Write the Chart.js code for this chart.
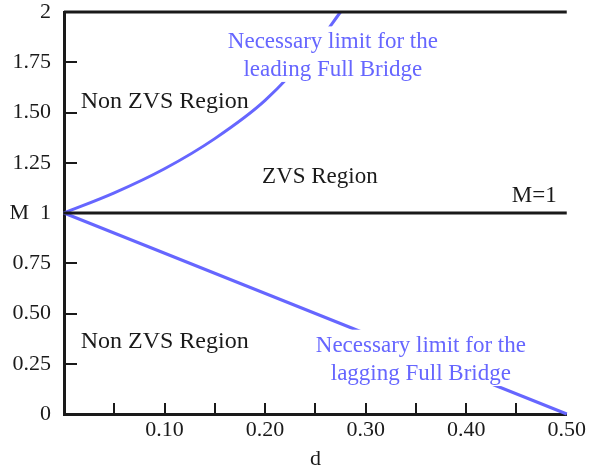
<!DOCTYPE html>
<html>
<head>
<meta charset="utf-8">
<script src="https://cdn.jsdelivr.net/npm/chart.js@4/dist/chart.umd.min.js"></script>
<style>
  body { margin: 0; background: #fff; }
  canvas { display: block; }
</style>
</head>
<body>
<canvas id="zvsChart" width="589" height="470"></canvas>
<script>
// leading full bridge limit
const leadD = [0, 0.05, 0.10, 0.15, 0.20, 0.25, 0.275];
const leadM = [1.00, 1.10, 1.22, 1.37, 1.56, 1.83, 2.00];

// lagging full bridge limit
const lagD = [0, 0.5];
const lagM = [1, 0];

// horizontal boundaries
const boundD = [0, 0.5];
const topM = [2, 2];
const unityM = [1, 1];

const xTickLabels = ['', '', '0.10', '', '0.20', '', '0.30', '', '0.40', '', '0.50'];
const yTickLabels = ['0', '0.25', '0.50', '0.75', 'M\u20021', '1.25', '1.50', '1.75', '2'];

const BLUE = '#6666ff';
const INK = '#1a1a1a';
const SERIF = '"Liberation Serif", "Times New Roman", serif';

function toPoints(xs, ys) {
    return xs.map((x, i) => ({ x: x, y: ys[i] }));
}

// inward tick marks + text annotations
const decorPlugin = {
    id: 'decor',
    afterDatasetsDraw(chart) {
        const ctx = chart.ctx;
        const xs = chart.scales.x, ys = chart.scales.y;
        const area = chart.chartArea;

        ctx.save();
        ctx.strokeStyle = INK;
        ctx.lineWidth = 2;
        ys.ticks.forEach(t => {
            if (t.value <= 0 || t.value >= 2 || t.value === 1) return;
            const py = Math.round(ys.getPixelForValue(t.value));
            ctx.beginPath();
            ctx.moveTo(area.left, py);
            ctx.lineTo(area.left + 13, py);
            ctx.stroke();
        });
        xs.ticks.forEach(t => {
            if (t.value <= 0 || t.value >= 0.5) return;
            const px = Math.round(xs.getPixelForValue(t.value));
            ctx.beginPath();
            ctx.moveTo(px, area.bottom);
            ctx.lineTo(px, area.bottom - 11);
            ctx.stroke();
        });

        ctx.textBaseline = 'alphabetic';
        ctx.fillStyle = INK;
        ctx.textAlign = 'left';
        ctx.font = '24px ' + SERIF;
        ctx.fillText('Non ZVS Region', xs.getPixelForValue(0.0166), ys.getPixelForValue(1.522));
        ctx.fillText('Non ZVS Region', xs.getPixelForValue(0.0166), ys.getPixelForValue(0.328));
        ctx.font = '23px ' + SERIF;
        ctx.textAlign = 'center';
        ctx.fillText('ZVS Region', xs.getPixelForValue(0.2545), ys.getPixelForValue(1.149));
        ctx.textAlign = 'right';
        ctx.fillText('M=1', xs.getPixelForValue(0.490), ys.getPixelForValue(1.056));

        // blue labels on white boxes that break the curves
        const blueLabel = (cx, m1, m2, l1, l2) => {
            const x = xs.getPixelForValue(cx);
            const y1 = ys.getPixelForValue(m1);
            const y2 = ys.getPixelForValue(m2);
            const w = Math.max(ctx.measureText(l1).width, ctx.measureText(l2).width) + 8;
            ctx.fillStyle = '#fff';
            ctx.fillRect(x - w / 2, y1 - 22, w, (y2 + 6) - (y1 - 22));
            ctx.fillStyle = BLUE;
            ctx.fillText(l1, x, y1);
            ctx.fillText(l2, x, y2);
        };
        ctx.textAlign = 'center';
        blueLabel(0.2674, 1.819, 1.682, 'Necessary limit for the', 'leading Full Bridge');
        blueLabel(0.3549, 0.310, 0.169, 'Necessary limit for the', 'lagging Full Bridge');
        ctx.restore();
    }
};

const ctx = document.getElementById('zvsChart').getContext('2d');
new Chart(ctx, {
    type: 'scatter',
    data: {
        datasets: [
            { label: 'top', data: toPoints(boundD, topM), borderColor: INK, borderWidth: 3 },
            { label: 'M=1', data: toPoints(boundD, unityM), borderColor: INK, borderWidth: 3 },
            { label: 'leading', data: toPoints(leadD, leadM), borderColor: BLUE, borderWidth: 3, cubicInterpolationMode: 'monotone' },
            { label: 'lagging', data: toPoints(lagD, lagM), borderColor: BLUE, borderWidth: 3 }
        ]
    },
    options: {
        responsive: false,
        animation: false,
        devicePixelRatio: 1,
        showLine: true,
        layout: { padding: { top: 12, right: 22, left: 0, bottom: 0 } },
        elements: { point: { radius: 0, hoverRadius: 0 }, line: { fill: false } },
        datasets: { scatter: { clip: false } },
        plugins: { legend: { display: false }, tooltip: { enabled: false } },
        scales: {
            x: {
                type: 'linear',
                min: 0,
                max: 0.5,
                afterFit: s => { s.height = 56; },
                grid: { drawOnChartArea: false, drawTicks: false },
                border: { color: INK, width: 3 },
                ticks: {
                    stepSize: 0.05,
                    padding: 3,
                    maxRotation: 0,
                    autoSkip: false,
                    color: INK,
                    font: { family: SERIF, size: 22 },
                    callback: (v, i) => xTickLabels[i]
                },
                title: {
                    display: true,
                    text: 'd',
                    color: INK,
                    font: { family: SERIF, size: 22, lineHeight: 1 },
                    padding: 0
                }
            },
            y: {
                type: 'linear',
                min: 0,
                max: 2,
                afterFit: s => { s.width = 64; s.paddingTop = 0; s.paddingBottom = 0; },
                grid: { drawOnChartArea: false, drawTicks: false },
                border: { color: INK, width: 3 },
                ticks: {
                    stepSize: 0.25,
                    padding: 13,
                    autoSkip: false,
                    color: INK,
                    font: { family: SERIF, size: 22 },
                    callback: (v, i) => yTickLabels[i]
                }
            }
        }
    },
    plugins: [decorPlugin]
});
</script>
</body>
</html>
